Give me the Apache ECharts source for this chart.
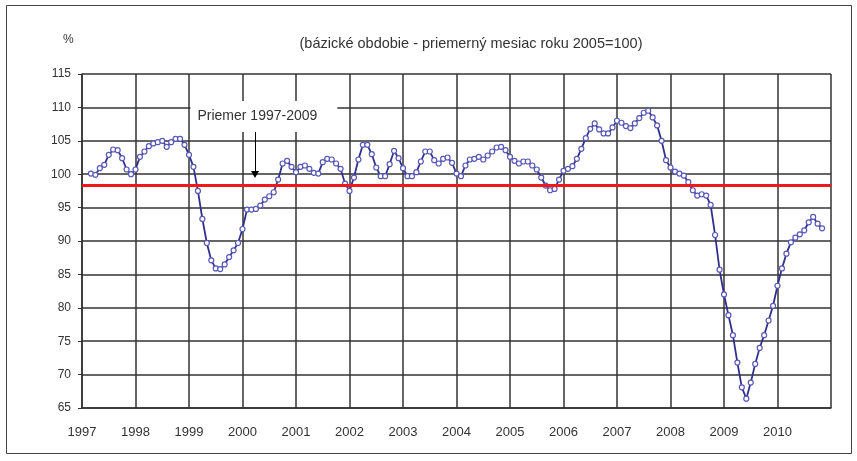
<!DOCTYPE html>
<html>
<head>
<meta charset="utf-8">
<script src="https://cdn.jsdelivr.net/npm/echarts@6/dist/echarts.min.js"></script>
<style>
html,body{margin:0;padding:0;background:#fff;}
#chart{width:857px;height:461px;}
</style>
</head>
<body>
<div id="chart"></div>
<script>
// ---- data ----
const yearLabels = ['1997','1998','1999','2000','2001','2002','2003','2004','2005','2006','2007','2008','2009','2010'];
const firstMonthIndex = 2; // first observation: March 1997 (months counted from January 1997)
const v1997 = [100.1, 99.9, 100.9, 101.4, 102.9, 103.7, 103.6, 102.4, 100.7, 100.0];
const v1998 = [100.7, 102.6, 103.4, 104.2, 104.6, 104.8, 105.0, 104.1, 104.8, 105.3, 105.3, 104.4];
const v1999 = [102.9, 101.1, 97.5, 93.3, 89.7, 87.1, 85.9, 85.8, 86.5, 87.6, 88.6, 89.7];
const v2000 = [91.8, 94.7, 94.7, 94.8, 95.3, 96.2, 96.7, 97.3, 99.2, 101.6, 102.0, 101.1];
const v2001 = [100.3, 101.1, 101.3, 100.8, 100.2, 100.1, 101.8, 102.3, 102.2, 101.6, 100.8, 98.6];
const v2002 = [97.5, 99.5, 102.2, 104.4, 104.4, 103.0, 101.0, 99.7, 99.7, 101.5, 103.5, 102.4];
const v2003 = [100.9, 99.7, 99.7, 100.3, 101.9, 103.4, 103.4, 102.1, 101.6, 102.3, 102.5, 101.7];
const v2004 = [100.1, 99.7, 101.3, 102.2, 102.3, 102.6, 102.2, 102.8, 103.4, 104.0, 104.1, 103.6];
const v2005 = [102.6, 102.0, 101.6, 101.9, 101.9, 101.3, 100.7, 99.5, 98.3, 97.6, 97.8, 99.2];
const v2006 = [100.5, 100.8, 101.2, 102.3, 103.8, 105.4, 106.8, 107.6, 106.7, 106.1, 106.1, 107.0];
const v2007 = [108.0, 107.7, 107.2, 106.9, 107.6, 108.4, 109.2, 109.5, 108.5, 107.3, 105.0, 102.1];
const v2008 = [101.0, 100.4, 100.1, 99.8, 98.8, 97.6, 96.8, 97.0, 96.8, 95.4, 90.9, 85.7];
const v2009 = [82.0, 78.9, 75.9, 71.8, 68.1, 66.4, 68.8, 71.6, 74.0, 75.9, 78.1, 80.3];
const v2010 = [83.3, 85.9, 88.1, 89.8, 90.5, 91.0, 91.6, 92.8, 93.6, 92.6, 91.9];
const averageValue = 98.4;
const averageLabel = 'Priemer 1997-2009';
const unitLabel = '%';
const subtitleText = '(bázické obdobie - priemerný mesiac roku 2005=100)';
const yMin = 65, yMax = 115, yStep = 5;

// ---- build series points ----
const allValues = [].concat(v1997, v1998, v1999, v2000, v2001, v2002, v2003,
  v2004, v2005, v2006, v2007, v2008, v2009, v2010);
const points = allValues.map((v, k) => [firstMonthIndex + k, v]);
const xMax = yearLabels.length * 12;

// annotation placement (months from Jan 1997, value units)
const arrowX = 38.8, arrowTop = 107.7, arrowBottom = 99.95;
const boxX = 40.8, boxY = 108.65;

const FONT = '"Liberation Sans", Arial, sans-serif';
const chart = echarts.init(document.getElementById('chart'), null, {renderer: 'canvas'});
chart.setOption({
  animation: false,
  backgroundColor: '#ffffff',
  title: [
    {text: unitLabel, left: 58, top: 29, textStyle: {fontFamily: FONT, fontSize: 12, fontWeight: 'normal', color: '#333'}},
    {text: subtitleText, left: 466, top: 31, textAlign: 'center',
     textStyle: {fontFamily: FONT, fontSize: 14.5, fontWeight: 'normal', color: '#333'}}
  ],
  graphic: [
    {type: 'rect', shape: {x: 6.5, y: 5.5, width: 845, height: 448}, style: {fill: 'none', stroke: '#444', lineWidth: 1}, silent: true}
  ],
  grid: {left: 82, right: 26, top: 74, bottom: 53, containLabel: false},
  xAxis: {
    type: 'value', min: 0, max: xMax, interval: 12,
    axisLine: {show: true, lineStyle: {color: '#333', width: 1.5}},
    axisTick: {show: false},
    splitLine: {show: true, lineStyle: {color: '#333', width: 1.5}},
    axisLabel: {
      margin: 18, fontFamily: FONT, fontSize: 13, color: '#333', showMaxLabel: false,
      formatter: v => { const k = Math.round(v / 12); return k < yearLabels.length ? yearLabels[k] : ''; }
    }
  },
  yAxis: {
    type: 'value', min: yMin, max: yMax, interval: yStep,
    axisLine: {show: true, lineStyle: {color: '#333', width: 1.5}},
    axisTick: {show: true, length: 4, lineStyle: {color: '#333', width: 1}},
    splitLine: {show: true, lineStyle: {color: '#333', width: 1.5}},
    axisLabel: {margin: 11, fontFamily: FONT, fontSize: 12, color: '#333'}
  },
  series: [
    {
      type: 'line', data: [], z: 2, silent: true,
      markLine: {
        silent: true, symbol: ['none', 'none'], animation: false,
        label: {show: false},
        lineStyle: {color: '#f01818', width: 3, type: 'solid'},
        data: [{yAxis: averageValue}]
      }
    },
    {
      type: 'line', data: points, z: 3,
      symbol: 'circle', symbolSize: 5, showSymbol: true,
      lineStyle: {color: '#30308c', width: 1.8},
      itemStyle: {color: '#ffffff', borderColor: '#5858b8', borderWidth: 1.2},
      markLine: {
        silent: true, animation: false, label: {show: false},
        lineStyle: {color: '#000', width: 1, type: 'solid'},
        data: [[
          {coord: [arrowX, arrowTop], symbol: 'none'},
          {coord: [arrowX, arrowBottom], symbol: 'triangle', symbolSize: [8, 7]}
        ]]
      },
      markPoint: {
        silent: true, animation: false, symbol: 'rect', symbolSize: 0,
        data: [{coord: [boxX, boxY], value: averageLabel}],
        label: {
          show: true, formatter: averageLabel, position: 'inside',
          fontFamily: FONT, fontSize: 14, lineHeight: 15, color: '#333',
          backgroundColor: '#ffffff', padding: [7, 20, 9, 7]
        }
      }
    }
  ]
});
</script>
</body>
</html>
